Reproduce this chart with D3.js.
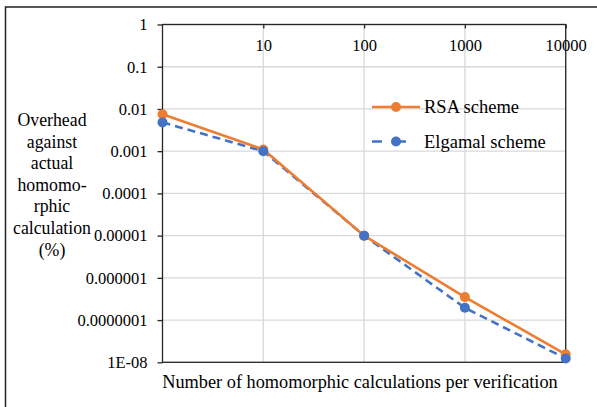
<!DOCTYPE html>
<html>
<head>
<meta charset="utf-8">
<script src="https://cdn.jsdelivr.net/npm/d3@7"></script>
</head>
<body style="margin:0">
<script>
const calcs = [1, 10, 100, 1000, 10000];
const rsaOverhead = [0.0075, 0.0011, 0.00001, 0.00000035, 0.0000000155];
const elgamalOverhead = [0.0048, 0.001, 0.00001, 0.000000195, 0.0000000123];
const yTicks = [1, 0.1, 0.01, 0.001, 0.0001, 0.00001, 0.000001, 0.0000001, 0.00000001];
const yTickLabels = ["1", "0.1", "0.01", "0.001", "0.0001", "0.00001", "0.000001", "0.0000001", "1E-08"];
const xTicks = [10, 100, 1000, 10000];
const yTitleLines = ["Overhead", "against", "actual", "homomo-", "rphic", "calculation", "(%)"];

const W = 597, H = 407;
const pLeft = 162.5, pRight = 565.7, pTop = 24.5, pBottom = 362.3;
const FONT = '"Liberation Serif"';

const svg = d3.select("body").append("svg")
    .attr("width", W)
    .attr("height", H);

// outer frame
svg.append("rect")
    .attr("x", 5.5).attr("y", 7)
    .attr("width", 600).attr("height", 410)
    .attr("fill", "none")
    .attr("stroke", "#222")
    .attr("stroke-width", 1.5);

const x = d3.scaleLog().domain([1, 10000]).range([pLeft, pRight]);
const y = d3.scaleLog().domain([1e-8, 1]).range([pBottom, pTop]);

// gridlines
svg.append("g").selectAll("line")
    .data(yTicks)
    .enter().append("line")
    .attr("x1", pLeft).attr("x2", pRight)
    .attr("y1", d => y(d)).attr("y2", d => y(d))
    .attr("stroke", "#d9d9d9").attr("stroke-width", 1.3);

svg.append("g").selectAll("line")
    .data(xTicks)
    .enter().append("line")
    .attr("x1", d => x(d)).attr("x2", d => x(d))
    .attr("y1", pTop).attr("y2", pBottom)
    .attr("stroke", "#d9d9d9").attr("stroke-width", 1.3);

// plot frame
svg.append("rect")
    .attr("x", pLeft).attr("y", pTop)
    .attr("width", pRight - pLeft).attr("height", pBottom - pTop)
    .attr("fill", "none")
    .attr("stroke", "#262626")
    .attr("stroke-width", 1.3);

// y axis (left, outward ticks)
const yAxis = d3.axisLeft(y)
    .tickValues(yTicks)
    .tickSize(5)
    .tickPadding(10)
    .tickFormat((d, i) => yTickLabels[i]);
const gy = svg.append("g")
    .attr("transform", `translate(${pLeft},0)`)
    .call(yAxis);
gy.select(".domain").remove();
gy.selectAll(".tick line").attr("stroke", "#262626").attr("stroke-width", 1.3);
gy.selectAll(".tick text")
    .attr("fill", "#000")
    .style("font-family", FONT)
    .style("font-size", "16.5px");

// x axis sits at the top (crosses at y = 1), labels below, ticks inward
const xAxis = d3.axisBottom(x)
    .tickValues(xTicks)
    .tickSize(4)
    .tickPadding(11)
    .tickFormat(d3.format("d"));
const gx = svg.append("g")
    .attr("transform", `translate(0,${pTop})`)
    .call(xAxis);
gx.select(".domain").remove();
gx.selectAll(".tick line").attr("stroke", "#262626").attr("stroke-width", 1.3);
gx.selectAll(".tick text")
    .attr("fill", "#000")
    .style("font-family", FONT)
    .style("font-size", "16.5px");

// series
const rsa = calcs.map((c, i) => ({x: c, y: rsaOverhead[i]}));
const elg = calcs.map((c, i) => ({x: c, y: elgamalOverhead[i]}));

const line = d3.line().x(d => x(d.x)).y(d => y(d.y));

svg.append("path")
    .datum(elg)
    .attr("d", line)
    .attr("fill", "none")
    .attr("stroke", "#4472c4")
    .attr("stroke-width", 2.6)
    .attr("stroke-dasharray", "8,5");

svg.append("path")
    .datum(rsa)
    .attr("d", line)
    .attr("fill", "none")
    .attr("stroke", "#ed7d31")
    .attr("stroke-width", 2.6);

svg.append("g").selectAll("circle")
    .data(rsa)
    .enter().append("circle")
    .attr("cx", d => x(d.x)).attr("cy", d => y(d.y))
    .attr("r", 5)
    .attr("fill", "#ed7d31");

svg.append("g").selectAll("circle")
    .data(elg)
    .enter().append("circle")
    .attr("cx", d => x(d.x)).attr("cy", d => y(d.y))
    .attr("r", 5)
    .attr("fill", "#4472c4");

// legend
const legend = [
    {name: "RSA scheme", color: "#ed7d31", dash: null, y: 107},
    {name: "Elgamal scheme", color: "#4472c4", dash: "10,14", y: 141.5}
];
const lg = svg.append("g");
legend.forEach(l => {
    lg.append("line")
        .attr("x1", 372).attr("x2", 420)
        .attr("y1", l.y).attr("y2", l.y)
        .attr("stroke", l.color)
        .attr("stroke-width", 2.6)
        .attr("stroke-dasharray", l.dash);
    lg.append("circle")
        .attr("cx", 396).attr("cy", l.y).attr("r", 5)
        .attr("fill", l.color);
    lg.append("text")
        .attr("x", 424).attr("y", l.y)
        .attr("dy", "0.34em")
        .style("font-family", FONT)
        .style("font-size", "18.5px")
        .text(l.name);
});

// y title
const yt = svg.append("text")
    .attr("text-anchor", "middle")
    .style("font-family", FONT)
    .style("font-size", "17.8px");
yTitleLines.forEach((t, i) => {
    yt.append("tspan")
        .attr("x", 52)
        .attr("y", 126 + i * 21.6)
        .text(t);
});

// x title
svg.append("text")
    .attr("x", 360)
    .attr("y", 388)
    .attr("text-anchor", "middle")
    .style("font-family", FONT)
    .style("font-size", "18.3px")
    .text("Number of homomorphic calculations per verification");
</script>
</body>
</html>
